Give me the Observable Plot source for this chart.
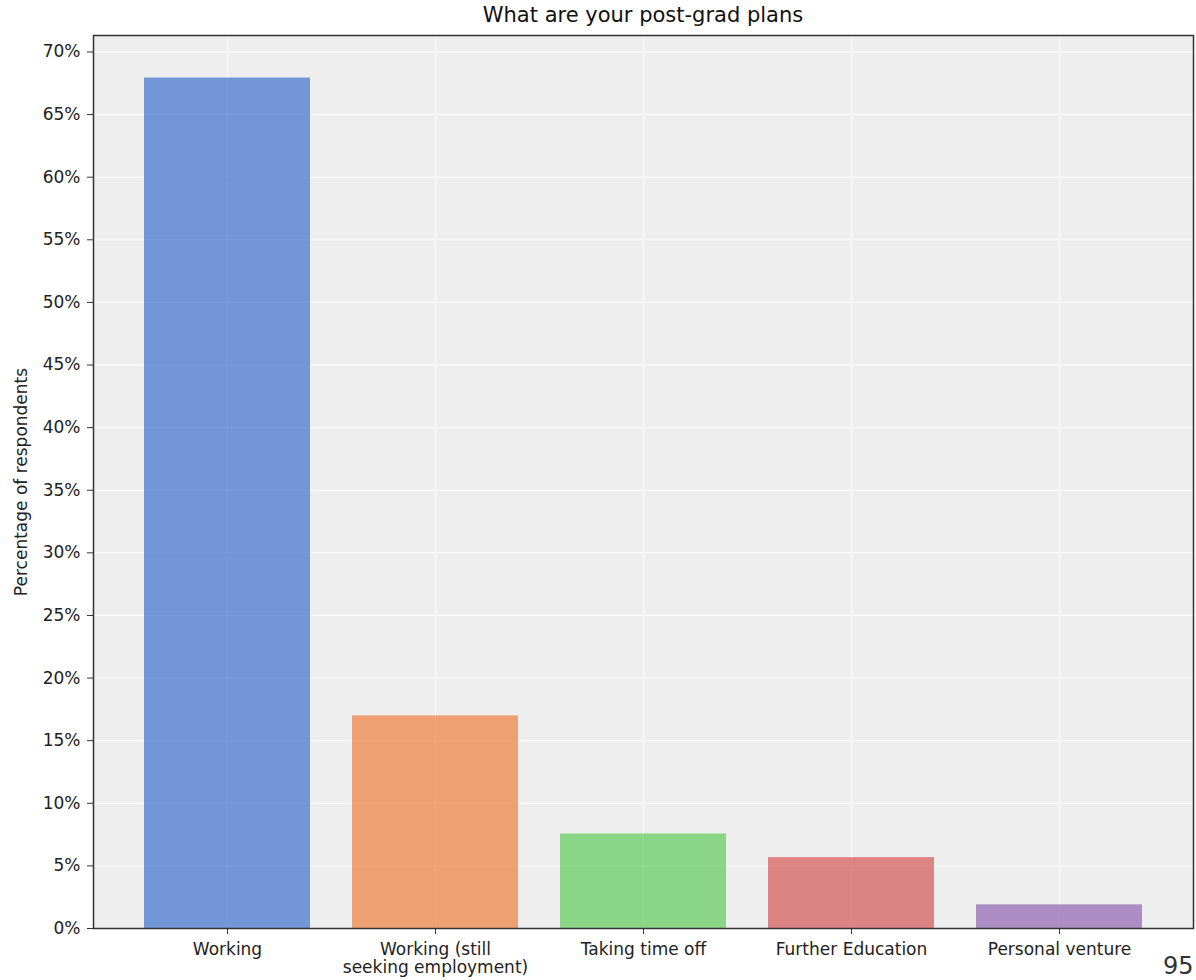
<!DOCTYPE html>
<html>
<head>
<meta charset="utf-8">
<script src="https://cdn.jsdelivr.net/npm/d3@7"></script>
<script src="https://cdn.jsdelivr.net/npm/@observablehq/plot@0.6"></script>
<style>
  html, body { margin: 0; padding: 0; background: #ffffff; overflow: hidden; }
  body { width: 1196px; height: 980px; position: relative; font-family: "DejaVu Sans", sans-serif; }
  #title { position: absolute; left: 93px; top: 0; width: 1100px; height: 30px; line-height: 30px; text-align: center; font-size: 21px; color: #111; }
  #chart { position: absolute; left: 0; top: 30px; }
  #page { position: absolute; left: 1163px; top: 954px; font-size: 24px; line-height: 24px; color: #333; }
</style>
</head>
<body>
<div id="title">What are your post-grad plans</div>
<div id="chart"></div>
<div id="page">95</div>
<script>
const categories = ["Working", "Working (still\nseeking employment)", "Taking time off", "Further Education", "Personal venture"];
const values = [67.92, 16.98, 7.55, 5.66, 1.89];
const palette = ["#4878d0", "#ee854a", "#6acc64", "#d65f5f", "#956cb4"];
const yTicks = [0, 5, 10, 15, 20, 25, 30, 35, 40, 45, 50, 55, 60, 65, 70];
const yLabel = "Percentage of respondents";

const data = categories.map((c, i) => ({cat: c, value: values[i]}));
const yMax = Math.max(...values) * 1.05;

const chart = Plot.plot({
  width: 1196,
  height: 950,
  marginLeft: 93,
  marginRight: 3,
  marginTop: 5,
  marginBottom: 52,
  style: {fontFamily: "DejaVu Sans, sans-serif", fontSize: "17px", color: "#222", background: "transparent"},
  x: {domain: categories, paddingInner: 0.2, paddingOuter: 0.24, align: 0.5},
  y: {domain: [0, yMax]},
  color: {domain: categories, range: palette},
  marks: [
    Plot.frame({fill: "#eeeeee", stroke: null}),
    Plot.gridY(yTicks, {stroke: "#ffffff", strokeOpacity: 1, strokeWidth: 1}),
    Plot.ruleX(categories, {x: d => d, stroke: "#ffffff", strokeOpacity: 1, strokeWidth: 1}),
    Plot.barY(data, {x: "cat", y: "value", fill: "cat", fillOpacity: 0.75}),
    Plot.axisY(yTicks, {
      tickFormat: d => d + "%", tickSize: 6, tickPadding: 7, stroke: "#333",
      label: yLabel, labelAnchor: "center", labelArrow: "none", labelOffset: 79, fontSize: 17
    }),
    Plot.axisX({tickSize: 6, tickPadding: 7, stroke: "#333", label: null, fontSize: 17, lineHeight: 1.1}),
    Plot.frame({stroke: "#333", strokeWidth: 1.5})
  ]
});
document.getElementById("chart").appendChild(chart);
</script>
</body>
</html>
